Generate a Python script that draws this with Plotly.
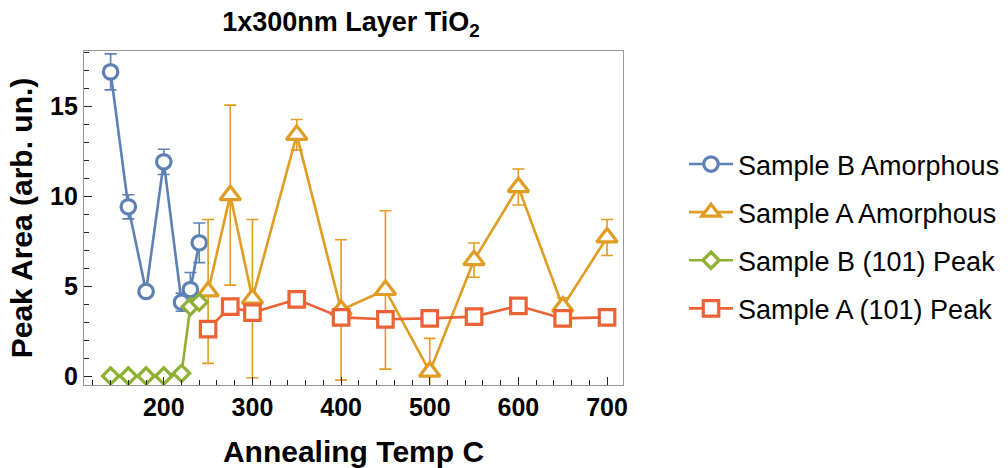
import plotly.graph_objects as go

# ---- data ----
b_amor_x = [140, 160, 180, 200, 220, 230, 240]
b_amor_y = [16.9, 9.4, 4.7, 11.9, 4.1, 4.8, 7.4]
b_amor_err = [1.0, 0.67, 0.3, 0.7, 0.5, 0.95, 1.1]

a_amor_x = [250, 275, 300, 350, 400, 450, 500, 550, 600, 650, 700]
a_amor_y = [4.7, 10.05, 4.3, 13.4, 3.67, 4.78, 0.24, 6.44, 10.5, 3.85, 7.7]
a_amor_err = [4.0, 5.0, 4.4, 0.85, 3.9, 4.4, 1.85, 0.95, 1.0, 0.5, 1.0]

b_peak_x = [140, 160, 180, 200, 220, 230, 240]
b_peak_y = [0.0, 0.0, 0.0, 0.0, 0.15, 3.85, 4.1]

a_peak_x = [250, 275, 300, 350, 400, 450, 500, 550, 600, 650, 700]
a_peak_y = [2.6, 3.85, 3.52, 4.26, 3.26, 3.15, 3.2, 3.3, 3.9, 3.2, 3.26]

x_ticks = [200, 300, 400, 500, 600, 700]
y_ticks = [0, 5, 10, 15]

names = ["Sample B Amorphous", "Sample A Amorphous",
         "Sample B (101) Peak", "Sample A (101) Peak"]
colors = ["#5E81B5", "#E19C24", "#8FB032", "#EB6235"]

FONT = "Liberation Sans, Arial, sans-serif"

fig = go.Figure()

def add(x, y, err, name, color, symbol, size, group):
    kw = {}
    if err is not None:
        kw["error_y"] = dict(type="data", array=err, visible=True,
                             color=color, thickness=1.6, width=6)
    fig.add_trace(go.Scatter(
        x=x, y=y, name=name, mode="lines+markers",
        legendgroup=group,
        line=dict(color=color, width=2.6),
        marker=dict(symbol=symbol, size=size, color="white",
                    line=dict(color=color, width=3.2)),
        cliponaxis=True,
        **kw))

add(b_amor_x, b_amor_y, b_amor_err, names[0], colors[0], "circle", 14.5, "g1")
add(a_amor_x, a_amor_y, a_amor_err, names[1], colors[1], "triangle-up", 18, "g2")
add(b_peak_x, b_peak_y, None, names[2], colors[2], "diamond", 12.5, "g3")
add(a_peak_x, a_peak_y, None, names[3], colors[3], "square", 15.5, "g4")

axis_common = dict(
    showgrid=False, zeroline=False, showline=True, mirror=True,
    linecolor="#999999", linewidth=1.3,
    ticks="inside", ticklen=8, tickwidth=1.2, tickcolor="#222222",
    tickfont=dict(family=FONT, size=25, color="black", weight="bold"),
)

fig.update_layout(
    width=1008, height=468,
    margin=dict(l=84, r=385, t=51, b=83, autoexpand=False),
    paper_bgcolor="white", plot_bgcolor="white",
    font=dict(family=FONT, color="black", size=25),
    title=dict(text="1x300nm Layer TiO<sub>2</sub>",
               font=dict(family=FONT, size=27, color="black", weight="bold"),
               x=351 / 1008, xanchor="center",
               y=1 - 22 / 468, yanchor="middle"),
    xaxis=dict(range=[110, 718], tickvals=x_ticks,
               minor=dict(dtick=20, tick0=0, ticks="inside", ticklen=4.5,
                          tickwidth=1, tickcolor="#222222"),
               title=dict(text="Annealing Temp C", standoff=20,
                          font=dict(family=FONT, size=30, color="black",
                                    weight="bold")),
               **axis_common),
    yaxis=dict(range=[-0.5, 18.06], tickvals=y_ticks,
               minor=dict(dtick=1, tick0=0, ticks="inside", ticklen=4.5,
                          tickwidth=1, tickcolor="#222222"),
               title=dict(text="Peak Area (arb. un.)", standoff=8,
                          font=dict(family=FONT, size=30, color="black",
                                    weight="bold")),
               **axis_common),
    legend=dict(x=(684 - 84) / 539, xanchor="left",
                y=(385 - 140) / 334, yanchor="top",
                font=dict(family=FONT, size=27, color="black"),
                tracegroupgap=10, bgcolor="rgba(0,0,0,0)",
                itemwidth=44),
    showlegend=True,
)

fig.write_html("out.html")
